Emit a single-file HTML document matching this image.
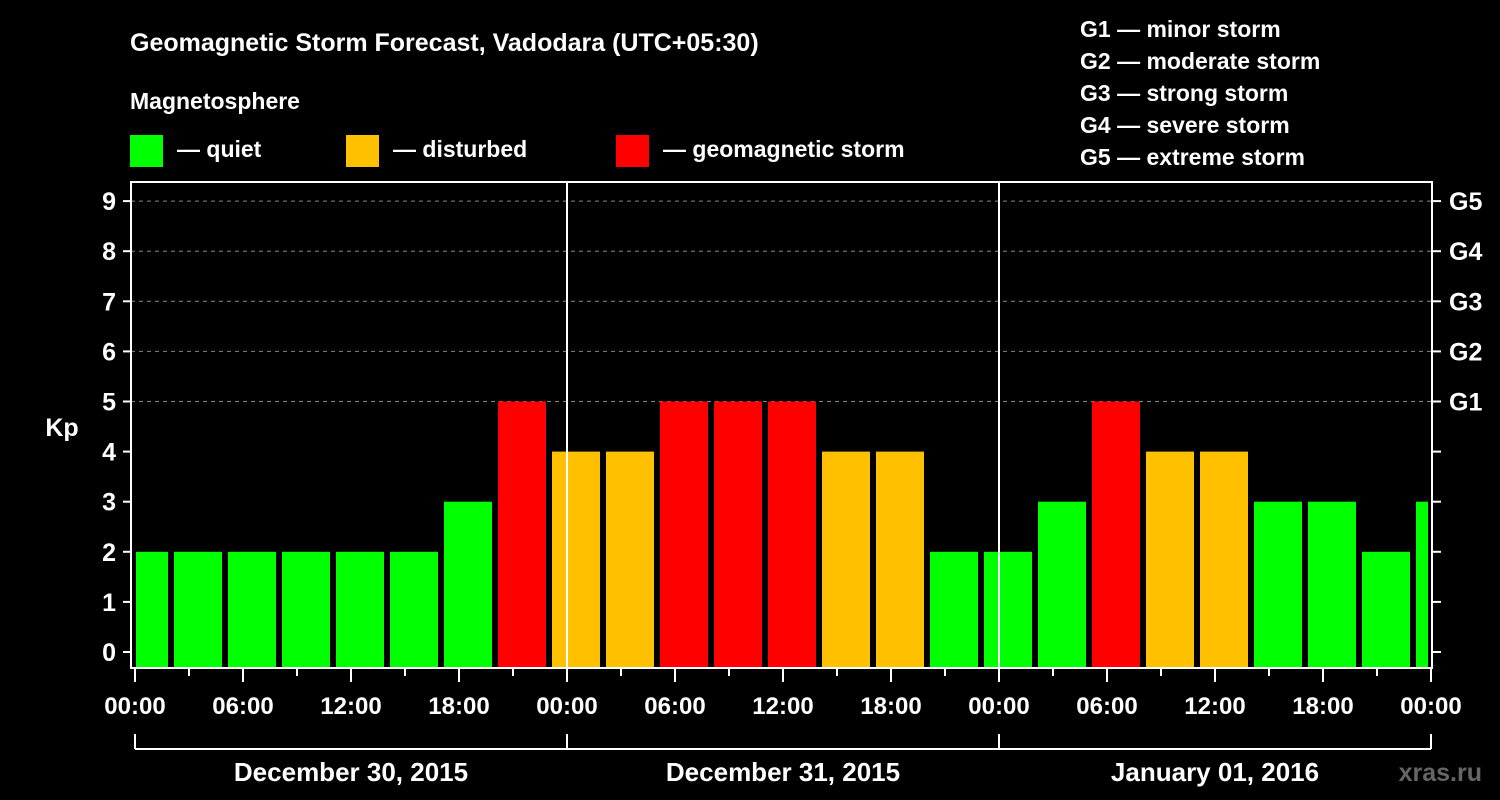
<!DOCTYPE html>
<html><head><meta charset="utf-8"><style>
html,body{margin:0;padding:0;background:#000;}
svg{display:block;font-family:"Liberation Sans",Arial,sans-serif;font-weight:bold;}
</style></head><body>
<svg id="chart" width="1500" height="800" viewBox="0 0 1500 800">
<rect x="0" y="0" width="1500" height="800" fill="#000"/>
<text x="130" y="51" fill="#fff" font-size="25">Geomagnetic Storm Forecast, Vadodara (UTC+05:30)</text>
<text x="130" y="109" fill="#fff" font-size="23">Magnetosphere</text>
<g>
<rect x="130" y="135" width="33" height="32" fill="#00ff00"/>
<text x="177" y="157" fill="#fff" font-size="23">— quiet</text>
<rect x="346" y="135" width="33" height="32" fill="#ffc000"/>
<text x="393" y="157" fill="#fff" font-size="23">— disturbed</text>
<rect x="616" y="135" width="33" height="32" fill="#ff0000"/>
<text x="663" y="157" fill="#fff" font-size="23">— geomagnetic storm</text>
</g>
<g fill="#fff" font-size="23">
<text x="1080" y="37">G1 — minor storm</text>
<text x="1080" y="69">G2 — moderate storm</text>
<text x="1080" y="101">G3 — strong storm</text>
<text x="1080" y="133">G4 — severe storm</text>
<text x="1080" y="165">G5 — extreme storm</text>
</g>
<g id="grid"></g>
<g id="bars"></g>
<g id="axes"></g>
<text x="62" y="436" fill="#fff" font-size="25" text-anchor="middle">Kp</text>
<text x="1482" y="781" fill="#666" font-size="25" text-anchor="end">xras.ru</text>
</svg>
<script>
const kpValues = [2,2,2,2,2,2,3,5,4,4,5,5,5,4,4,2,2,3,5,4,4,3,3,2,3];
const barStartHours = [-1,2,5,8,11,14,17,20,23,26,29,32,35,38,41,44,47,50,53,56,59,62,65,68,71];
const yTicks = [0,1,2,3,4,5,6,7,8,9];
const gLabels = ["G1","G2","G3","G4","G5"];
const gLevels = [5,6,7,8,9];
const timeLabels = ["00:00","06:00","12:00","18:00","00:00","06:00","12:00","18:00","00:00","06:00","12:00","18:00","00:00"];
const dayLabels = ["December 30, 2015","December 31, 2015","January 01, 2016"];

const NS="http://www.w3.org/2000/svg";
const L=131,R=1432,T=182,B=668;
const x0=135, pxH=18;
const xs=h=>x0+h*pxH;
const ys=k=>652-k*50.1;
function mk(tag,attrs,parent){const e=document.createElementNS(NS,tag);for(const k in attrs)e.setAttribute(k,attrs[k]);parent.appendChild(e);return e;}
const grid=document.getElementById('grid'),bars=document.getElementById('bars'),axes=document.getElementById('axes');
function color(k){return k>=5?'#ff0000':(k>=4?'#ffc000':'#00ff00');}
gLevels.forEach((k,i)=>{
 const ln=mk('line',{x1:L,x2:R,y1:ys(k),y2:ys(k),stroke:'#888','stroke-dasharray':'4,4','stroke-width':1},grid);
 
 
 const t=mk('text',{x:1449,y:ys(k)+9,fill:'#fff','font-size':25},axes);
 t.textContent=gLabels[i];
 
 
});
kpValues.forEach((k,i)=>{
 let a=Math.max(xs(barStartHours[i])+3,L+5), b=Math.min(xs(barStartHours[i]+3)-3,R-4);
 const r=mk('rect',{x:a,y:ys(k),width:b-a,height:B-1-ys(k),fill:color(k)},bars);
 
 
});
// day dividers
[1,2].forEach(d=>{
 const ln=mk('line',{x1:xs(24*d),x2:xs(24*d),y1:T,y2:B,stroke:'#fff','stroke-width':2},axes);
 
 
});
const frame=mk('rect',{x:L,y:T,width:R-L,height:B-T,fill:'none',stroke:'#fff','stroke-width':2},axes);


yTicks.forEach(k=>{
 const tl=mk('line',{x1:L-8,x2:L,y1:ys(k),y2:ys(k),stroke:'#fff','stroke-width':2},axes);
 
 
 const tr=mk('line',{x1:R,x2:R+9,y1:ys(k),y2:ys(k),stroke:'#fff','stroke-width':2},axes);
 
 
 const t=mk('text',{x:116,y:ys(k)+9,fill:'#fff','font-size':25,'text-anchor':'end'},axes);
 t.textContent=k;
 
 
});
for(let h=0;h<=72;h+=3){
 const major=h%6===0;
 const tk=mk('line',{x1:xs(h),x2:xs(h),y1:B,y2:B+(major?14:8),stroke:'#fff','stroke-width':2},axes);
 
 
}
timeLabels.forEach((s,i)=>{
 const t=mk('text',{x:xs(i*6),y:714,fill:'#fff','font-size':24,'text-anchor':'middle'},axes);
 t.textContent=s;
 
 
});
const br=mk('line',{x1:xs(0),x2:xs(72),y1:749,y2:749,stroke:'#fff','stroke-width':2},axes);


for(let d=0;d<=3;d++){
 const v=mk('line',{x1:xs(24*d),x2:xs(24*d),y1:734,y2:749,stroke:'#fff','stroke-width':2},axes);
 
 
}
dayLabels.forEach((s,i)=>{
 const t=mk('text',{x:xs(24*i+12),y:781,fill:'#fff','font-size':26,'text-anchor':'middle'},axes);
 t.textContent=s;
 
 
});
</script>
</body></html>
